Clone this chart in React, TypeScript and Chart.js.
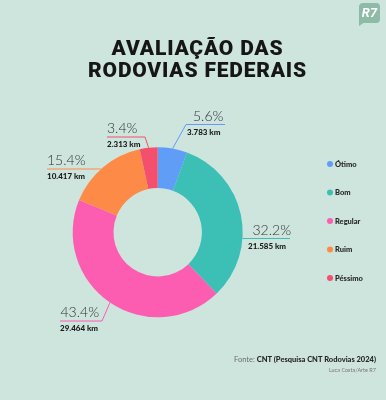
import React, { useEffect, useRef } from "react";
import { Chart, registerables } from "chart.js";

Chart.register(...registerables);

const categories = ["Ótimo", "Bom", "Regular", "Ruim", "Péssimo"];
const percentValues = [5.6, 32.2, 43.4, 15.4, 3.4];
const kmLabels = ["3.783 km", "21.585 km", "29.464 km", "10.417 km", "2.313 km"];
const percentLabels = ["5.6%", "32.2%", "43.4%", "15.4%", "3.4%"];
const colors = ["#5f9df7", "#3cc0b5", "#fd5db1", "#fd8a47", "#f4506e"];

const titleLines = ["AVALIAÇÃO DAS", "RODOVIAS FEDERAIS"];
const sourceLabel = "Fonte:";
const sourceText = "CNT (Pesquisa CNT Rodovias 2024)";
const creditText = "Luca Costa/Arte R7";

const BG = "#cee5de";

// annotation layout (leader lines / label text placement)
type LabelLayout = { lineY: number; x0: number; x1: number; connect: "mid" | "edge"; innerEnd: 0 | 1; pctX: number; kmX: number };
const labelLayout: LabelLayout[] = [
  { lineY: 124.5, x0: 186, x1: 225, connect: "mid", innerEnd: 0, pctX: 193, kmX: 187 },
  { lineY: 238.5, x0: 0, x1: 290, connect: "edge", innerEnd: 0, pctX: 252.5, kmX: 248 },
  { lineY: 321, x0: 60, x1: 102, connect: "mid", innerEnd: 1, pctX: 60.5, kmX: 60 },
  { lineY: 169, x0: 47, x1: 0, connect: "edge", innerEnd: 1, pctX: 47, kmX: 47 },
  { lineY: 137, x0: 107, x1: 145, connect: "mid", innerEnd: 1, pctX: 107, kmX: 107 },
];

const overlayPlugin = {
  id: "overlay",
  beforeDraw(chart: any) {
    const ctx = chart.ctx;
    ctx.save();
    ctx.fillStyle = BG;
    ctx.fillRect(0, 0, chart.width, chart.height);
    ctx.restore();
  },
  afterDraw(chart: any) {
    const ctx: CanvasRenderingContext2D = chart.ctx;
    const meta = chart.getDatasetMeta(0);
    ctx.save();

    // Title
    ctx.fillStyle = "#161616";
    ctx.font = "900 21px Roboto";
    (ctx as any).letterSpacing = "0.8px";
    ctx.textAlign = "center";
    ctx.textBaseline = "alphabetic";
    ctx.fillText(titleLines[0], 197.5, 55);
    ctx.fillText(titleLines[1], 197.5, 77);
    (ctx as any).letterSpacing = "0px";

    // R7 logo
    ctx.fillStyle = "#8dbba5";
    ctx.beginPath();
    (ctx as any).roundRect(359, 3, 21, 20, 4);
    ctx.fill();
    ctx.beginPath();
    ctx.moveTo(359, 18);
    ctx.lineTo(359, 26);
    ctx.lineTo(365, 22);
    ctx.closePath();
    ctx.fill();
    ctx.fillStyle = "#ffffff";
    ctx.font = "italic bold 13px Roboto";
    ctx.textAlign = "center";
    ctx.textBaseline = "middle";
    ctx.fillText("R7", 369.5, 13.5);

    // Labels + leader lines
    meta.data.forEach((arc: any, i: number) => {
      const L = labelLayout[i];
      const { x: cx, y: cy, startAngle, endAngle, outerRadius } = arc.getProps(
        ["x", "y", "startAngle", "endAngle", "outerRadius"],
        true
      );
      ctx.strokeStyle = colors[i];
      ctx.lineWidth = 1;
      ctx.beginPath();
      if (L.connect === "edge") {
        const dy = L.lineY - cy;
        const dx = Math.sqrt(Math.max(outerRadius * outerRadius - dy * dy, 0));
        const mid = (startAngle + endAngle) / 2;
        const ex = Math.cos(mid) >= 0 ? cx + dx : cx - dx;
        const a = L.innerEnd === 0 ? ex : L.x0;
        const b = L.innerEnd === 0 ? L.x1 : ex;
        ctx.moveTo(a, L.lineY);
        ctx.lineTo(b, L.lineY);
      } else {
        const mid = (startAngle + endAngle) / 2;
        const px = cx + Math.cos(mid) * outerRadius;
        const py = cy + Math.sin(mid) * outerRadius;
        const innerX = L.innerEnd === 0 ? L.x0 : L.x1;
        const outerX = L.innerEnd === 0 ? L.x1 : L.x0;
        ctx.moveTo(outerX, L.lineY);
        ctx.lineTo(innerX, L.lineY);
        ctx.lineTo(px, py);
      }
      ctx.stroke();

      ctx.textAlign = "left";
      ctx.textBaseline = "alphabetic";
      ctx.fillStyle = "#333333";
      ctx.font = "300 14px Lato";
      ctx.fillText(percentLabels[i], L.pctX, L.lineY - 4);
      ctx.fillStyle = "#1a1a1a";
      ctx.font = "900 8px Lato";
      ctx.textBaseline = "middle";
      ctx.fillText(kmLabels[i], L.kmX, L.lineY + 7.5);
    });

    // Legend
    categories.forEach((c, i) => {
      const y = 164 + i * 28.5;
      ctx.fillStyle = colors[i];
      ctx.beginPath();
      ctx.arc(330, y, 3, 0, Math.PI * 2);
      ctx.fill();
      ctx.fillStyle = "#262626";
      ctx.font = "900 7.5px Lato";
      ctx.textAlign = "left";
      ctx.textBaseline = "middle";
      ctx.fillText(c, 335, y + 0.5);
    });

    // Footer
    ctx.textAlign = "right";
    ctx.textBaseline = "middle";
    ctx.font = "900 7.5px Lato";
    ctx.fillStyle = "#262626";
    const right = 376;
    ctx.fillText(sourceText, right, 360);
    const w = ctx.measureText(sourceText).width;
    ctx.font = "7.5px Lato";
    ctx.fillStyle = "#6e6e6e";
    ctx.fillText(sourceLabel + " ", right - w, 360);
    ctx.font = "5.5px Lato";
    ctx.fillStyle = "#777777";
    ctx.fillText(creditText, right, 370);

    ctx.restore();
  },
};

export default function App() {
  const ref = useRef<HTMLCanvasElement>(null);
  useEffect(() => {
    document.body.style.margin = "0";
    document.body.style.background = BG;
    const chart = new Chart(ref.current!, {
      type: "doughnut",
      data: {
        labels: categories,
        datasets: [
          {
            data: percentValues,
            backgroundColor: colors,
            borderWidth: 0,
            hoverOffset: 0,
          },
        ],
      },
      options: {
        responsive: false,
        animation: false,
        devicePixelRatio: 1,
        events: [],
        cutout: "52%",
        rotation: 0,
        layout: { padding: { left: 72.7, right: 143.3, top: 147.3, bottom: 82.7 } },
        plugins: { legend: { display: false }, tooltip: { enabled: false }, title: { display: false } },
      },
      plugins: [overlayPlugin],
    } as any);
    return () => chart.destroy();
  }, []);
  return (
    <div style={{ width: 386, height: 400, background: BG }}>
      <canvas ref={ref} width={386} height={400} style={{ display: "block" }} />
    </div>
  );
}
